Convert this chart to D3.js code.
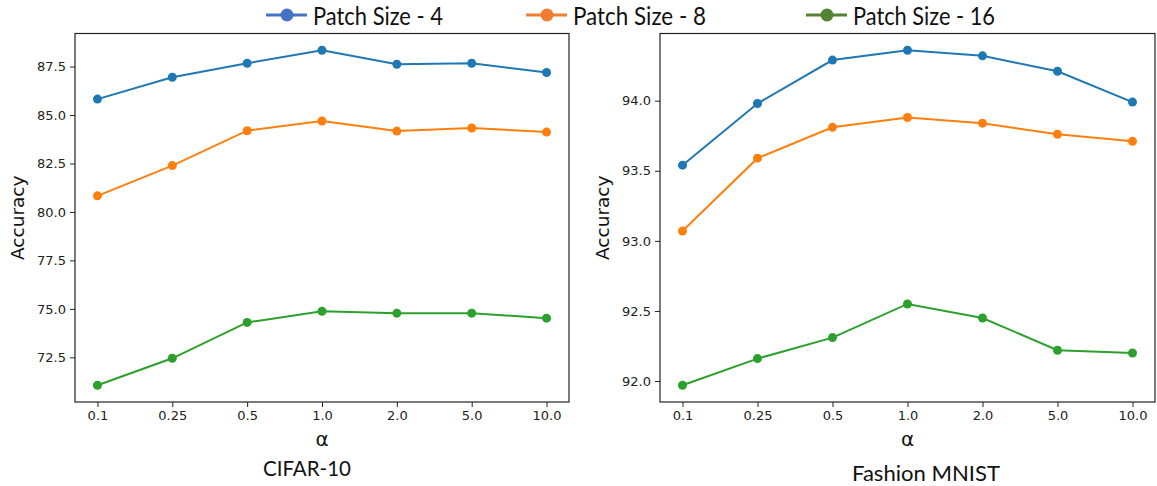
<!DOCTYPE html>
<html>
<head>
<meta charset="utf-8">
<script src="https://cdn.jsdelivr.net/npm/d3@7"></script>
<style>
  body { margin: 0; background: #fff; }
  svg { display: block; }
  .tick text { font-family: "DejaVu Sans", sans-serif; font-size: 13px; fill: #222; }
  .tick line { stroke: #222; }
  .domain { display: none; }
</style>
</head>
<body>
<div id="chart"></div>
<script>
// alpha values (categorical on x)
const alphas = ['0.1', '0.25', '0.5', '1.0', '2.0', '5.0', '10.0'];

const seriesNames = ['Patch Size - 4', 'Patch Size - 8', 'Patch Size - 16'];

// CIFAR-10 accuracy
const cifarP4 = [85.82, 86.95, 87.67, 88.34, 87.62, 87.67, 87.19];
const cifarP8 = [80.83, 82.39, 84.19, 84.69, 84.17, 84.33, 84.12];
const cifarP16 = [71.06, 72.45, 74.30, 74.88, 74.78, 74.78, 74.52];

// Fashion MNIST accuracy
const fmnistP4 = [93.54, 93.98, 94.29, 94.36, 94.32, 94.21, 93.99];
const fmnistP8 = [93.07, 93.59, 93.81, 93.88, 93.84, 93.76, 93.71];
const fmnistP16 = [91.97, 92.16, 92.31, 92.55, 92.45, 92.22, 92.20];

const cifarTicks = [72.5, 75.0, 77.5, 80.0, 82.5, 85.0, 87.5];
const fmnistTicks = [92.0, 92.5, 93.0, 93.5, 94.0];

const lineColors = ['#1f77b4', '#ff7f0e', '#2ca02c'];
const legendColors = ['#4472c4', '#ed7d31', '#548235'];

const width = 1157, height = 486;

const svg = d3.select('#chart').append('svg')
  .attr('width', width)
  .attr('height', height);

const panels = [
  { title: 'CIFAR-10', series: [cifarP4, cifarP8, cifarP16], ticks: cifarTicks,
    x0: 75, x1: 569, ylabX: 18, titleX: 307, titleY: 476, titleLen: 88 },
  { title: 'Fashion MNIST', series: [fmnistP4, fmnistP8, fmnistP16], ticks: fmnistTicks,
    x0: 660, x1: 1155, ylabX: 603, titleX: 926, titleY: 481, titleLen: 148 }
];

const plotTop = 33.5, plotBottom = 402;

panels.forEach(p => {
  const g = svg.append('g');

  const x = d3.scalePoint()
    .domain(alphas)
    .range([p.x0, p.x1])
    .padding(0.3);

  // matplotlib style 5% margins
  const all = p.series.flat();
  const [lo, hi] = d3.extent(all);
  const pad = (hi - lo) * 0.05;
  const y = d3.scaleLinear()
    .domain([lo - pad, hi + pad])
    .range([plotBottom, plotTop]);

  g.append('g')
    .attr('transform', `translate(0,${plotBottom})`)
    .call(d3.axisBottom(x).tickSize(5).tickPadding(4));

  g.append('g')
    .attr('transform', `translate(${p.x0},0)`)
    .call(d3.axisLeft(y).tickValues(p.ticks).tickFormat(d3.format('.1f')).tickSize(5).tickPadding(4));

  const line = d3.line()
    .x((d, i) => x(alphas[i]))
    .y(d => y(d));

  p.series.forEach((s, k) => {
    g.append('path')
      .datum(s)
      .attr('d', line)
      .attr('fill', 'none')
      .attr('stroke', lineColors[k])
      .attr('stroke-width', 2);

    g.selectAll(null)
      .data(s)
      .enter().append('circle')
        .attr('cx', (d, i) => x(alphas[i]))
        .attr('cy', d => y(d))
        .attr('r', 4.5)
        .attr('fill', lineColors[k]);
  });

  // frame
  g.append('rect')
    .attr('x', p.x0).attr('y', plotTop)
    .attr('width', p.x1 - p.x0).attr('height', plotBottom - plotTop)
    .attr('fill', 'none')
    .attr('stroke', '#222')
    .attr('stroke-width', 1.2);

  g.append('text')
    .attr('x', (p.x0 + p.x1) / 2)
    .attr('y', 446)
    .attr('text-anchor', 'middle')
    .style('font-family', '"DejaVu Sans", sans-serif')
    .style('font-size', '20px')
    .attr('fill', '#111')
    .text('α');

  g.append('text')
    .attr('transform', `translate(${p.ylabX + 6},${(plotTop + plotBottom) / 2}) rotate(-90)`)
    .attr('text-anchor', 'middle')
    .style('font-family', '"DejaVu Sans", sans-serif')
    .style('font-size', '18.5px')
    .attr('fill', '#111')
    .text('Accuracy');

  g.append('text')
    .attr('x', p.titleX - p.titleLen / 2)
    .attr('y', p.titleY)
    .attr('textLength', p.titleLen)
    .attr('lengthAdjust', 'spacingAndGlyphs')
    .style('font-family', 'Lato, sans-serif')
    .style('font-size', '22px')
    .attr('fill', '#111')
    .text(p.title);
});

// legend
const legendX = [266, 526, 806];
const legendLen = [130, 133, 142];
seriesNames.forEach((name, k) => {
  const lg = svg.append('g').attr('transform', `translate(${legendX[k]},15)`);
  lg.append('line')
    .attr('x1', 0).attr('x2', 41)
    .attr('stroke', legendColors[k])
    .attr('stroke-width', 3);
  lg.append('circle')
    .attr('cx', 21).attr('r', 6.5)
    .attr('fill', legendColors[k]);
  lg.append('text')
    .attr('x', 47)
    .attr('y', 10)
    .attr('textLength', legendLen[k])
    .attr('lengthAdjust', 'spacingAndGlyphs')
    .style('font-family', 'Lato, sans-serif')
    .style('font-size', '25px')
    .attr('fill', '#111')
    .text(name);
});
</script>
</body>
</html>
